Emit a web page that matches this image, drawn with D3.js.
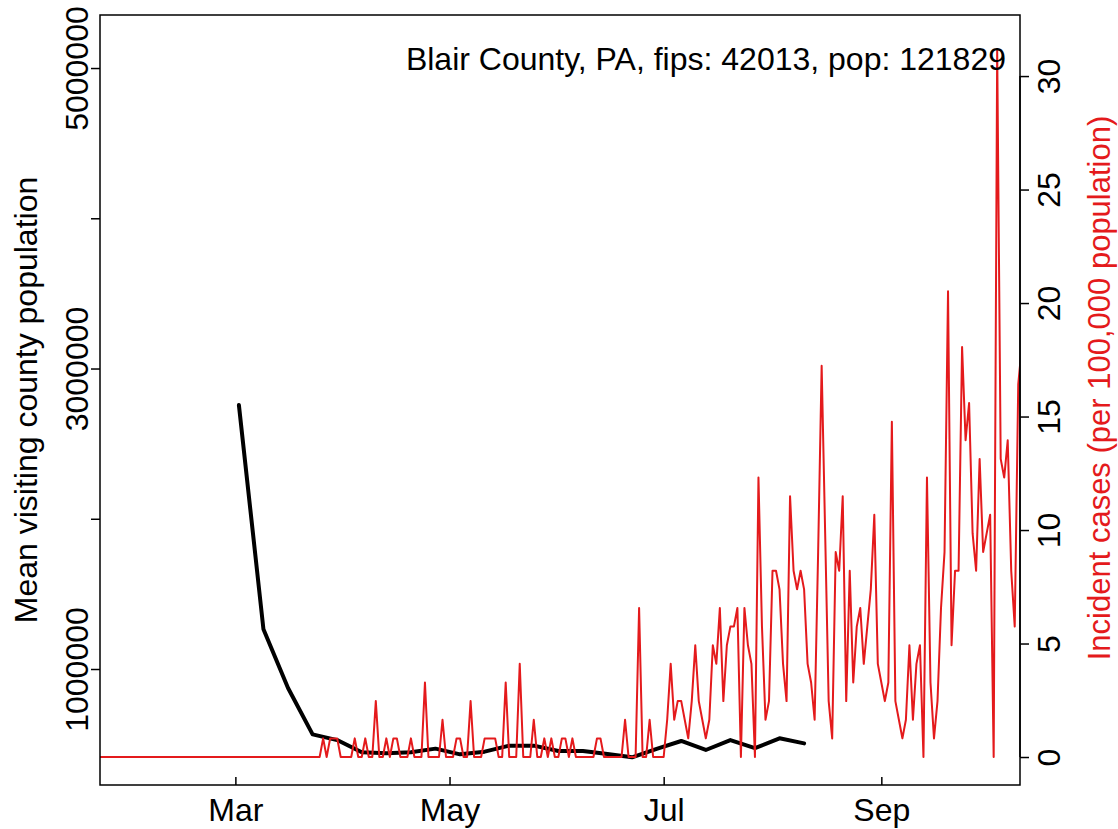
<!DOCTYPE html>
<html><head><meta charset="utf-8">
<script src="https://cdn.jsdelivr.net/npm/d3@7"></script>
<style>body{margin:0;background:#fff} svg text{font-family:"Liberation Sans",Arial,Helvetica,sans-serif}</style>
</head><body><svg id="c" width="1118" height="829"></svg>
<script>
const population = 121829;
const titleText = "Blair County, PA, fips: 42013, pop: 121829";
const caseStart = "2020-01-22";
// daily incident cases (counts), one per day from caseStart
const dailyCases = [
  0,0,0,0,0,0,0,0,0,0, 0,0,0,0,0,0,0,0,0,0, 0,0,0,0,0,0,0,0,0,0,
  0,0,0,0,0,0,0,0,0,0, 0,0,0,0,0,0,0,0,0,0, 0,0,0,0,0,0,0,0,0,0,
  0,0,0,0,
  1,0,1,1,1,
  0,0,0,0,1,0,0,1,0,0,
  3,0,0,1,0,1,1,0,0,0,
  1,0,0,0,4,0,0,0,0,2,
  0,0,0,1,1,0,0,3,0,0,
  0,1,1,1,1,0,0,4,0,0,
  0,5,0,0,0,2,0,0,1,0,
  1,0,0,1,1,0,1,0,0,0,
  0,0,0,1,1,0,0,0,0,0,
  0,2,0,0,0,8,0,0,2,0,
  0,0,0,2,5,2,3,3,2,1,
  3,6,3,2,1,2,6,5,8,3,
  6,7,7,8,0,8,6,5,0,15,
  7,2,3,10,10,9,5,3,14,10,
  9,10,9,5,4,2,11,21,12,3,
  1,11,10,14,3,10,4,7,8,5,
  7,9,13,5,4,3,4,18,3,2,
  1,2,6,2,5,6,0,15,4,1,
  3,8,11,25,6,10,10,22,17,19,
  12,10,16,11,12,13,0,38,16,15,
  17,10,7,20,22
];
const visitDates = ["2020-03-02","2020-03-09","2020-03-16","2020-03-23","2020-03-30","2020-04-06",
  "2020-04-13","2020-04-20","2020-04-27","2020-05-04","2020-05-11","2020-05-18","2020-05-25",
  "2020-06-01","2020-06-08","2020-06-15","2020-06-22","2020-06-29","2020-07-06","2020-07-13",
  "2020-07-20","2020-07-27","2020-08-03","2020-08-10"];
const visitValues = [2757000,1264000,874000,565000,527000,446000,439000,446000,470000,432000,
  450000,490000,490000,454000,454000,434000,412000,469000,521000,461000,527000,473000,539000,505000];
const monthTicks = ["2020-03-01","2020-05-01","2020-07-01","2020-09-01"];
const monthLabels = ["Mar","May","Jul","Sep"];
const leftTicks = [1000000,2000000,3000000,4000000,5000000];
const leftLabels = ["1000000","","3000000","","5000000"];
const rightTicks = [0,5,10,15,20,25,30];

const RED = "#E41A1C";
const FONT = 32;
const M = {l:100, r:1020, t:15, b:785};
const parse = d3.utcParse("%Y-%m-%d");
const svg = d3.select("#c");

const x = d3.scaleUtc()
  .domain([new Date(Date.UTC(2020,0,22,10,30)), new Date(Date.UTC(2020,9,10,12))])
  .range([M.l, M.r]);
const yL = d3.scaleLinear().domain([228000, 5353000]).range([M.b, M.t]);
const yR = d3.scaleLinear().domain([-1.233, 32.69]).range([M.b, M.t]);

const start = parse(caseStart);
const red = dailyCases.map((c,i)=>({date:d3.utcDay.offset(start,i), v:c*100000/population}));
const black = visitDates.map((d,i)=>({date:parse(d), v:visitValues[i]}));

svg.append("defs").append("clipPath").attr("id","clip")
  .append("rect").attr("x",M.l).attr("y",M.t).attr("width",M.r-M.l).attr("height",M.b-M.t);

const g = svg.append("g").attr("clip-path","url(#clip)");
g.append("path").datum(black)
  .attr("d", d3.line().x(d=>x(d.date)).y(d=>yL(d.v)))
  .attr("fill","none").attr("stroke","#000").attr("stroke-width",4)
  .attr("stroke-linecap","round").attr("stroke-linejoin","round");
g.append("path").datum(red)
  .attr("d", d3.line().x(d=>x(d.date)).y(d=>yR(d.v)))
  .attr("fill","none").attr("stroke",RED).attr("stroke-width",2)
  .attr("stroke-linejoin","round");

// box
svg.append("rect").attr("x",M.l).attr("y",M.t).attr("width",M.r-M.l).attr("height",M.b-M.t)
  .attr("fill","none").attr("stroke","#000").attr("stroke-width",1.5);

// bottom axis
const xa = svg.append("g").attr("transform",`translate(0,${M.b})`)
  .call(d3.axisBottom(x).tickValues(monthTicks.map(parse)).tickSize(-8)
    .tickFormat((d,i)=>monthLabels[i]).tickPadding(0));
xa.select(".domain").remove();
xa.selectAll(".tick line").attr("stroke","#000").attr("stroke-width",1.5);
xa.selectAll(".tick text").attr("font-size",FONT).attr("fill","#000").attr("y",36).attr("dy",null);

// left axis
const la = svg.append("g").attr("transform",`translate(${M.l},0)`)
  .call(d3.axisLeft(yL).tickValues(leftTicks).tickSize(9).tickFormat((d,i)=>leftLabels[i]));
la.select(".domain").remove();
la.selectAll(".tick line").attr("stroke","#000").attr("stroke-width",1.5);
la.selectAll(".tick text").attr("font-size",FONT).attr("fill","#000")
  .attr("x",null).attr("dy",null).attr("text-anchor","middle")
  .attr("transform","translate(-12,0) rotate(-90)");

// right axis
const ra = svg.append("g").attr("transform",`translate(${M.r},0)`)
  .call(d3.axisRight(yR).tickValues(rightTicks).tickSize(9).tickFormat(d3.format("d")));
ra.select(".domain").attr("d",`M0,${yR(0)}V${yR(30)}`).attr("stroke","#000").attr("stroke-width",1.5);
ra.selectAll(".tick line").attr("stroke","#000").attr("stroke-width",1.5);
ra.selectAll(".tick text").attr("font-size",FONT).attr("fill","#000")
  .attr("x",null).attr("dy",null).attr("text-anchor","middle")
  .attr("transform","translate(40,0) rotate(-90)");

// axis titles
svg.append("text").attr("transform",`translate(37,${(M.t+M.b)/2}) rotate(-90)`)
  .attr("text-anchor","middle").attr("font-size",FONT).attr("fill","#000")
  .text("Mean visiting county population");
svg.append("text").attr("transform",`translate(1110,388) rotate(-90)`)
  .attr("text-anchor","middle").attr("font-size",31).attr("fill",RED)
  .text("Incident cases (per 100,000 population)");

// title
svg.append("text").attr("x",1006).attr("y",70).attr("text-anchor","end")
  .attr("font-size",FONT).attr("fill","#000").text(titleText);
</script></body></html>
